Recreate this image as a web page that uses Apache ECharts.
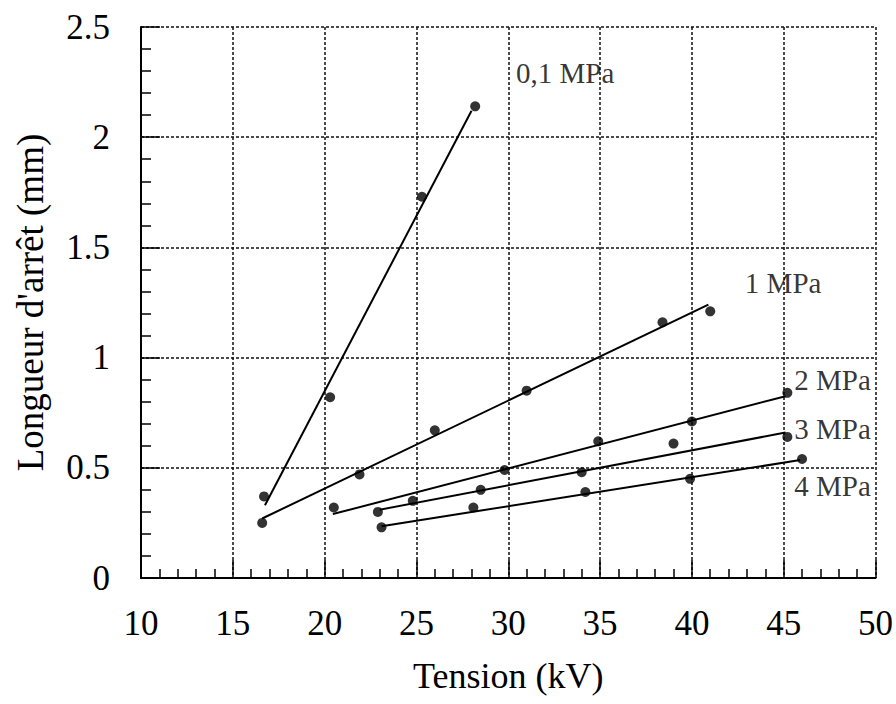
<!DOCTYPE html>
<html>
<head>
<meta charset="utf-8">
<script src="https://cdn.jsdelivr.net/npm/echarts@6/dist/echarts.min.js"></script>
<style>
html,body{margin:0;padding:0;background:#fff;}
#c{width:896px;height:704px;}
</style>
</head>
<body>
<div id="c"></div>
<script>
// Measured points (Tension kV, Longueur d'arrêt mm)
const pts01 = [[16.7, 0.37], [20.3, 0.82], [25.3, 1.73], [28.2, 2.14]];
const pts1  = [[16.6, 0.25], [21.9, 0.47], [26.0, 0.67], [31.0, 0.85], [38.4, 1.16], [41.0, 1.21]];
const pts2  = [[20.5, 0.32], [24.8, 0.35], [29.8, 0.49], [34.9, 0.62], [40.0, 0.71], [45.2, 0.84]];
const pts3  = [[22.9, 0.30], [28.5, 0.40], [34.0, 0.48], [39.0, 0.61], [45.2, 0.64]];
const pts4  = [[23.1, 0.23], [28.1, 0.32], [34.2, 0.39], [39.9, 0.45], [46.0, 0.54]];

// Fitted lines (start / end points)
const fit01 = [[16.75, 0.33], [28.0, 2.12]];
const fit1  = [[16.6, 0.27], [40.9, 1.24]];
const fit2  = [[20.45, 0.29], [45.1, 0.825]];
const fit3  = [[23.0, 0.31], [45.1, 0.66]];
const fit4  = [[23.1, 0.235], [45.9, 0.535]];

// Curve labels
const labelNames = ['0,1 MPa', '1 MPa', '2 MPa', '3 MPa', '4 MPa'];
const labelPos = [[33.1, 2.29], [44.97, 1.338], [47.66, 0.898], [47.66, 0.676], [47.66, 0.417]];

const xTitle = 'Tension (kV)';
const yTitle = "Longueur d'arrêt (mm)";

const FONT = "'Liberation Serif', 'Times New Roman', serif";
const chart = echarts.init(document.getElementById('c'), null, {renderer: 'svg'});

function scatter(d) {
  return {type: 'scatter', data: d, symbol: 'circle', symbolSize: 10,
    itemStyle: {color: '#000'}, z: 5, silent: true};
}
function fit(d) {
  return {type: 'line', data: d, symbol: 'none', lineStyle: {color: '#000', width: 2},
    z: 4, silent: true};
}

const option = {
  animation: false,
  backgroundColor: '#fff',
  textStyle: {fontFamily: FONT},
  grid: {left: 141, right: 19, top: 27, bottom: 126},
  xAxis: {
    type: 'value', min: 10, max: 50, interval: 5,
    name: xTitle, nameLocation: 'middle', nameGap: 80,
    nameTextStyle: {fontFamily: FONT, fontSize: 36, color: '#000'},
    axisLine: {show: true, onZero: false, lineStyle: {color: '#000', width: 2}},
    axisTick: {show: true, inside: true, length: 18, lineStyle: {color: '#000', width: 1.5}},
    minorTick: {show: true, splitNumber: 5, length: 9, lineStyle: {color: '#000', width: 1.5}},
    axisLabel: {fontFamily: FONT, fontSize: 35, color: '#000', margin: 28},
    splitLine: {show: true, lineStyle: {color: '#111', width: 1.5, type: [3, 2]}}
  },
  yAxis: {
    type: 'value', min: 0, max: 2.5, interval: 0.5,
    name: yTitle, nameLocation: 'middle', nameGap: 92, nameRotate: 90,
    nameTextStyle: {fontFamily: FONT, fontSize: 37, color: '#000'},
    axisLine: {show: true, onZero: false, lineStyle: {color: '#000', width: 2}},
    axisTick: {show: true, inside: true, length: 19, lineStyle: {color: '#000', width: 1.5}},
    minorTick: {show: true, splitNumber: 5, length: 10, lineStyle: {color: '#000', width: 1.5}},
    axisLabel: {fontFamily: FONT, fontSize: 35, color: '#000', margin: 31},
    splitLine: {show: true, lineStyle: {color: '#111', width: 1.5, type: [3, 2]}}
  },
  series: [
    fit(fit01), fit(fit1), fit(fit2), fit(fit3), fit(fit4),
    scatter(pts01), scatter(pts1), scatter(pts2), scatter(pts3), scatter(pts4),
    {
      type: 'scatter', symbolSize: 0, silent: true, z: 6,
      data: labelNames.map((n, i) => ({name: n, value: labelPos[i]})),
      label: {show: true, position: 'inside', formatter: '{b}',
        fontFamily: FONT, fontSize: 29, color: '#000'}
    }
  ]
};
chart.setOption(option);
</script>
</body>
</html>
